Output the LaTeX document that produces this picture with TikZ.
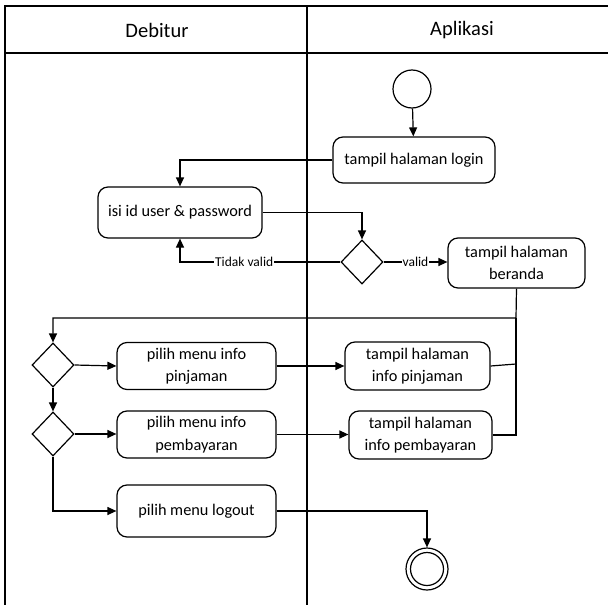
\documentclass[tikz,border=0pt]{standalone}
\usepackage{fontspec}
\setmainfont{Carlito}
\usetikzlibrary{arrows.meta,shapes.geometric}
\begin{document}
\begin{tikzpicture}[x=1pt,y=-1pt,
  line width=1.2pt,
  act/.style={draw, rounded corners=10pt, align=center, inner sep=0pt,
    font=\fontsize{16.3}{22.5}\selectfont},
  choice/.style={draw, diamond, minimum width=42pt, minimum height=44pt, inner sep=0pt},
  flow/.style={-{Triangle[length=9pt,width=8pt]}},
  lbl/.style={fill=white, inner sep=1pt, font=\fontsize{13.5}{15}\selectfont},
  head/.style={font=\fontsize{20.5}{24}\selectfont},
]
\useasboundingbox (0,0) rectangle (608,605);

% swimlane frame
\draw (5,605) -- (5,6) -- (608,6);
\draw (5,53) -- (608,53);
\draw (307,6) -- (307,605);
\node[head] (hDeb) at (157,30) {Debitur};
\node[head] (hApp) at (462,30) {Aplikasi};

% activities
\node[draw, circle, minimum size=38pt, inner sep=0pt] (start) at (412,89) {};
\node[act, minimum width=162pt, minimum height=46pt] (login) at (414,160) {tampil halaman login};
\node[act, minimum width=164pt, minimum height=51pt] (isi) at (180,212.5) {isi id user \& password};
\node[choice] (dec) at (362,262) {};
\node[act, minimum width=137pt, minimum height=50pt] (beranda) at (516.5,263) {tampil halaman\\beranda};

\node[choice] (d1) at (53,365) {};
\node[choice] (d2) at (53,434) {};
\node[act, minimum width=159pt, minimum height=47pt] (pinjU) at (196.5,366) {pilih menu info\\pinjaman};
\node[act, minimum width=145pt, minimum height=48pt] (pinjA) at (417.5,366) {tampil halaman\\info pinjaman};
\node[act, minimum width=159pt, minimum height=47pt] (bayarU) at (196.5,434.5) {pilih menu info\\pembayaran};
\node[act, minimum width=143pt, minimum height=48pt] (bayarA) at (420.5,435) {tampil halaman\\info pembayaran};
\node[act, minimum width=159pt, minimum height=52pt] (logout) at (196.5,511) {pilih menu logout};

\node[draw, circle, minimum size=42pt, inner sep=0pt] (end) at (427,569) {};
\node[draw, circle, minimum size=33pt, inner sep=0pt] (endIn) at (end.center) {};

% flows
\coordinate (loop) at (516,318);
\coordinate (joinA) at (516,364);

\draw[flow] (start) -- (login);
\draw[flow] (login.west) -| (isi.north);
\draw[flow] (isi.east) -| (dec.north);
\draw[flow] (dec.west) -| node[lbl, pos=0.3] {Tidak valid} (isi.south);
\draw[flow] (dec.east) -- node[lbl] {valid} (dec.east -| beranda.west);
\draw[flow] (beranda.south) -- (loop) -| (d1.north);
\draw (pinjA.east) -- (joinA);
\draw (bayarA.east) -- (loop |- bayarA.east) -- (loop);
\draw[flow] (d1.east) -- (pinjU.west);
\draw[flow] (pinjU.east) -- (pinjA.west);
\draw[flow] (d1.south) -- (d2.north);
\draw[flow] (d2.east) -- (d2.east -| bayarU.west);
\draw[flow] (bayarU.east) -- (bayarU.east -| bayarA.west);
\draw[flow] (d2.south) |- (logout.west);
\draw[flow] (logout.east) -| (end.north);
\end{tikzpicture}
\end{document}
